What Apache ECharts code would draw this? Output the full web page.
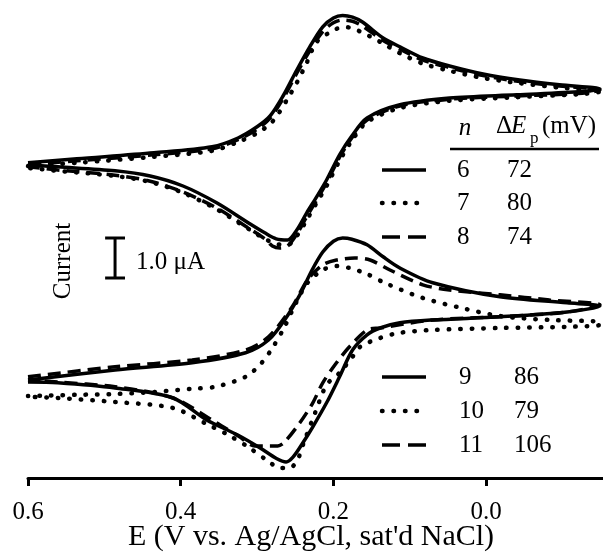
<!DOCTYPE html>
<html><head><meta charset="utf-8">
<script src="https://cdn.jsdelivr.net/npm/echarts@6/dist/echarts.min.js"></script>
<style>html,body{margin:0;padding:0;background:#fff}#c{width:603px;height:555px}</style>
</head><body><div id="c"></div>
<script>
// x ticks (V vs Ag/AgCl)
const xTicks = [0.6, 0.4, 0.2, 0.0];

// Upper group: [E (V), current (µA, offset)]
const loopN6 = [[0.60,7.88],[0.536,7.98],[0.435,8.13],[0.359,8.28],[0.325,8.50],[0.300,8.78],[0.283,9.05],[0.266,9.55],[0.248,10.20],[0.231,10.78],[0.214,11.28],[0.200,11.50],[0.188,11.56],[0.175,11.52],[0.162,11.40],[0.135,11.00],[0.113,10.78],[0.083,10.50],[0.048,10.30],[0.004,10.10],[-0.044,9.95],[-0.096,9.83],[-0.149,9.73],
  [-0.126,9.66],[-0.040,9.58],[0.048,9.50],[0.113,9.33],[0.156,9.00],[0.176,8.55],[0.192,8.08],[0.209,7.45],[0.222,7.03],[0.235,6.63],[0.248,6.20],[0.260,5.95],[0.275,5.98],[0.290,6.13],[0.309,6.35],[0.353,6.88],[0.397,7.30],[0.440,7.55],[0.486,7.68],[0.561,7.78],[0.60,7.83]];
const loopN7 = [[0.60,7.80],[0.536,7.88],[0.435,8.03],[0.359,8.18],[0.325,8.40],[0.300,8.62],[0.283,8.85],[0.273,9.08],[0.257,9.58],[0.248,9.88],[0.235,10.38],[0.222,10.90],[0.202,11.17],[0.188,11.27],[0.175,11.25],[0.162,11.13],[0.148,11.00],[0.135,10.86],[0.113,10.62],[0.083,10.36],[0.048,10.18],[0.004,10.00],[-0.044,9.87],[-0.096,9.76],[-0.149,9.66],
  [-0.126,9.60],[-0.040,9.52],[0.048,9.43],[0.113,9.25],[0.156,8.90],[0.176,8.43],[0.192,7.93],[0.209,7.30],[0.222,6.88],[0.235,6.45],[0.248,6.05],[0.260,5.83],[0.275,5.85],[0.290,5.98],[0.309,6.20],[0.353,6.72],[0.397,7.13],[0.440,7.40],[0.486,7.55],[0.561,7.68],[0.60,7.75]];
const loopN8 = [[0.60,7.83],[0.536,7.93],[0.435,8.08],[0.359,8.23],[0.325,8.46],[0.300,8.72],[0.283,9.00],[0.266,9.48],[0.248,10.12],[0.231,10.68],[0.214,11.16],[0.200,11.38],[0.188,11.45],[0.175,11.42],[0.162,11.30],[0.135,10.94],[0.113,10.72],[0.083,10.45],[0.048,10.26],[0.004,10.06],[-0.044,9.91],[-0.096,9.80],[-0.149,9.70],
  [-0.126,9.62],[-0.040,9.55],[0.048,9.47],[0.113,9.30],[0.156,8.95],[0.176,8.50],[0.192,8.02],[0.209,7.38],[0.222,6.95],[0.235,6.53],[0.248,6.10],[0.260,5.80],[0.270,5.75],[0.280,5.80],[0.290,5.98],[0.309,6.22],[0.353,6.75],[0.397,7.15],[0.440,7.42],[0.486,7.57],[0.561,7.70],[0.60,7.78]];

// Lower group
const loopN9 = [[0.60,2.45],[0.486,2.70],[0.385,2.88],[0.315,3.13],[0.285,3.45],[0.264,3.95],[0.244,4.58],[0.228,5.20],[0.214,5.65],[0.200,5.92],[0.188,6.00],[0.176,5.97],[0.156,5.83],[0.135,5.53],[0.113,5.25],[0.070,4.88],[-0.018,4.53],[-0.106,4.38],[-0.149,4.30],
  [-0.106,4.15],[-0.018,4.03],[0.070,3.95],[0.113,3.88],[0.139,3.75],[0.156,3.58],[0.175,3.20],[0.192,2.53],[0.209,1.88],[0.227,1.28],[0.240,0.88],[0.253,0.52],[0.262,0.40],[0.274,0.48],[0.296,0.75],[0.326,1.08],[0.366,1.45],[0.410,2.00],[0.486,2.25],[0.561,2.38],[0.60,2.40]];
const loopN10 = [[0.60,2.05],[0.536,2.08],[0.486,2.10],[0.435,2.15],[0.385,2.23],[0.355,2.28],[0.315,2.53],[0.294,2.88],[0.279,3.28],[0.264,3.78],[0.249,4.38],[0.234,4.88],[0.214,5.20],[0.196,5.30],[0.179,5.25],[0.156,5.10],[0.133,4.88],[0.083,4.50],[0.032,4.25],[-0.018,4.05],[-0.083,3.95],[-0.149,3.90],
  [-0.149,3.83],[-0.106,3.78],[-0.018,3.75],[0.070,3.70],[0.113,3.63],[0.139,3.50],[0.165,3.28],[0.175,3.03],[0.192,2.63],[0.209,2.33],[0.224,1.63],[0.239,0.88],[0.246,0.50],[0.257,0.25],[0.270,0.25],[0.286,0.43],[0.312,0.78],[0.340,1.10],[0.366,1.35],[0.410,1.75],[0.486,1.90],[0.561,2.00],[0.60,2.03]];
const loopN11 = [[0.60,2.53],[0.486,2.78],[0.385,2.95],[0.315,3.20],[0.285,3.53],[0.254,4.28],[0.234,4.95],[0.214,5.33],[0.196,5.45],[0.172,5.50],[0.152,5.45],[0.126,5.20],[0.083,4.83],[0.048,4.70],[-0.018,4.58],[-0.083,4.45],[-0.149,4.33],
  [-0.106,4.15],[-0.018,4.03],[0.070,3.95],[0.139,3.75],[0.156,3.70],[0.179,3.28],[0.196,2.88],[0.214,2.38],[0.227,1.88],[0.244,1.38],[0.264,0.90],[0.273,0.80],[0.303,0.80],[0.323,1.03],[0.355,1.40],[0.410,2.00],[0.486,2.28],[0.561,2.40],[0.60,2.45]];

// Legend table
const legendN = [6, 7, 8, 9, 10, 11];
const legendDEp = [72, 80, 74, 86, 79, 106];
const legendKind = ['solid', 'dotted', 'dashed', 'solid', 'dotted', 'dashed'];

// Scale bar: 1.0 µA
const scaleBarE = 0.486;
const scaleBarI = [5.0, 6.0];
const scaleBarLabel = '1.0 \u03BCA';

const FONT = '"Liberation Serif", "Times New Roman", serif';
const lineStyles = {
  solid: {type: 'solid', width: 3.5},
  dotted: {type: [0.5, 11], width: 4.5, cap: 'round'},
  dashed: {type: [13, 7], width: 3.5}
};
const loops = [loopN6, loopN7, loopN8, loopN9, loopN10, loopN11];

const series = loops.map((d, i) => ({
  type: 'line', data: d, showSymbol: false, smooth: 0.3, silent: true,
  lineStyle: Object.assign({color: '#000'}, lineStyles[legendKind[i]])
}));
const sw = 0.013;
series.push({
  type: 'line', showSymbol: false, silent: true,
  data: [[scaleBarE + sw, scaleBarI[1]], [scaleBarE - sw, scaleBarI[1]], [scaleBarE, scaleBarI[1]],
         [scaleBarE, scaleBarI[0]], [scaleBarE + sw, scaleBarI[0]], [scaleBarE - sw, scaleBarI[0]]],
  lineStyle: {color: '#000', width: 3}
});

function txt(x, y, text, size, opts) {
  return Object.assign({
    type: 'text', x: x, y: y, silent: true,
    style: Object.assign({text: text, font: size + 'px ' + FONT, fill: '#000',
      align: 'left', textAlign: 'left', verticalAlign: 'middle', textVerticalAlign: 'middle'}, (opts && opts.style) || {})
  }, (opts && opts.el) || {});
}

const graphics = [];
// header
graphics.push(txt(465, 128, 'n', 25, {style: {font: 'italic 25px ' + FONT, align: 'center', textAlign: 'center'}}));
graphics.push(txt(496, 126, '\u0394', 25));
graphics.push(txt(511, 126, 'E', 25, {style: {font: 'italic 25px ' + FONT}}));
graphics.push(txt(530, 139, 'p', 17));
graphics.push(txt(542, 126, '(mV)', 25));
graphics.push({type: 'line', silent: true, shape: {x1: 450, y1: 149, x2: 599, y2: 149}, style: {stroke: '#000', lineWidth: 2.5}});

const rowY = [170, 203, 237, 377, 411, 445];
const colN = [457, 457, 457, 459, 459, 459];
const colD = [507, 507, 507, 514, 514, 514];
legendN.forEach((n, i) => {
  const st = lineStyles[legendKind[i]];
  graphics.push({type: 'line', silent: true,
    shape: {x1: 382, y1: rowY[i], x2: 426, y2: rowY[i]},
    style: {stroke: '#000', lineWidth: st.width, lineDash: st.type === 'solid' ? null : (legendKind[i] === 'dashed' ? [18, 8] : st.type), lineCap: st.cap || 'butt'}});
  graphics.push(txt(colN[i], rowY[i], String(n), 25));
  graphics.push(txt(colD[i], rowY[i], String(legendDEp[i]), 25));
});

// scale bar label and y label
graphics.push(txt(136, 262, scaleBarLabel, 25));
graphics.push(txt(63, 261, 'Current', 25, {style: {align: 'center', textAlign: 'center'}, el: {rotation: Math.PI / 2}}));
// x-axis title
graphics.push(txt(311, 537, 'E (V vs. Ag/AgCl, sat\'d NaCl)', 30, {style: {align: 'center', textAlign: 'center'}}));

const chart = echarts.init(document.getElementById('c'));
chart.setOption({
  animation: false,
  backgroundColor: '#fff',
  grid: {left: 28, right: 0, top: 0, bottom: 77, containLabel: false},
  xAxis: {
    type: 'value', inverse: true, min: -0.153, max: 0.6,
    axisLine: {show: true, onZero: false, lineStyle: {color: '#000', width: 3}},
    axisTick: {show: true, length: 8, inside: false, lineStyle: {color: '#000', width: 3}, customValues: xTicks},
    axisLabel: {show: true, margin: 22, color: '#000', fontSize: 25, fontFamily: FONT, customValues: xTicks,
      formatter: v => v.toFixed(1)},
    splitLine: {show: false}
  },
  yAxis: {type: 'value', min: 0, max: 11.95, show: false},
  series: series,
  graphic: graphics
});
</script></body></html>
